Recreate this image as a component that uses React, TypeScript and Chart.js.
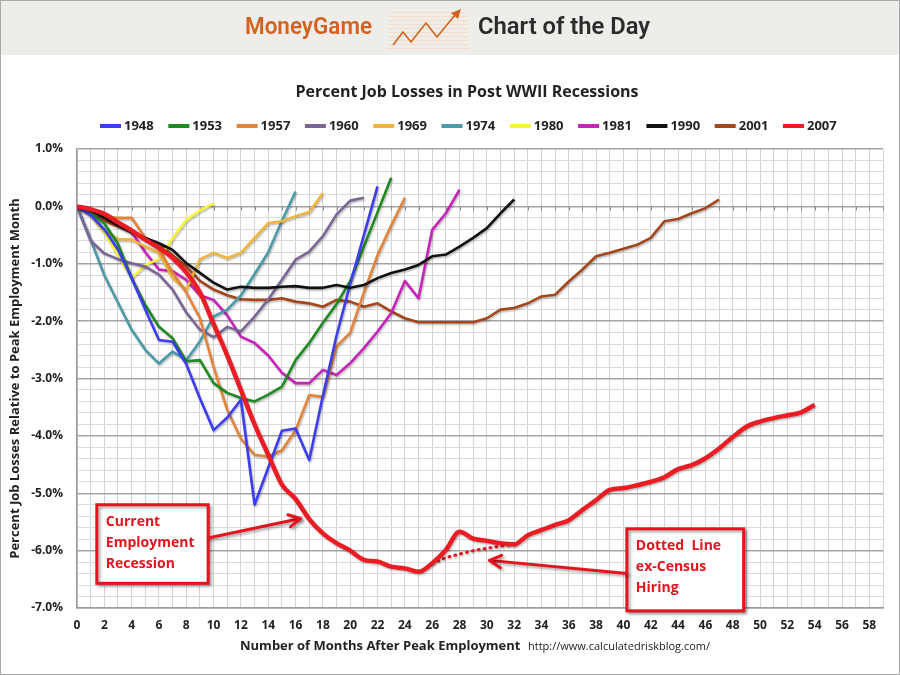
import { useEffect, useRef } from "react";
import { Chart, registerables } from "chart.js";

Chart.register(...registerables);

// Percent change in payroll employment relative to the pre-recession peak month,
// indexed by months after the peak (index 0 = peak month).
const jobs1948 = [0, -0.15, -0.4, -0.75, -1.25, -1.8, -2.33, -2.36, -2.75, -3.35, -3.9, -3.68, -3.37, -5.2, -4.55, -3.91, -3.87, -4.42, -3.3, -2.25, -1.35, -0.5, 0.35];
const jobs1953 = [0, -0.12, -0.3, -0.65, -1.25, -1.72, -2.1, -2.3, -2.7, -2.68, -3.08, -3.25, -3.34, -3.4, -3.28, -3.14, -2.68, -2.38, -2.03, -1.7, -1.3, -0.7, -0.1, 0.5];
const jobs1957 = [0, -0.1, -0.18, -0.2, -0.2, -0.55, -0.75, -1.15, -1.5, -1.95, -2.8, -3.55, -4.05, -4.33, -4.36, -4.25, -3.9, -3.29, -3.32, -2.44, -2.2, -1.5, -0.85, -0.33, 0.15];
const jobs1960 = [0, -0.6, -0.82, -0.92, -0.99, -1.05, -1.19, -1.45, -1.85, -2.15, -2.28, -2.1, -2.18, -1.92, -1.62, -1.28, -0.93, -0.79, -0.52, -0.14, 0.1, 0.15];
const jobs1969 = [0, -0.15, -0.42, -0.57, -0.58, -0.7, -0.81, -1.25, -1.45, -0.92, -0.81, -0.9, -0.81, -0.55, -0.29, -0.26, -0.17, -0.1, 0.23];
const jobs1974 = [0, -0.58, -1.2, -1.68, -2.15, -2.5, -2.74, -2.53, -2.68, -2.35, -1.92, -1.8, -1.55, -1.18, -0.8, -0.25, 0.26];
const jobs1980 = [0, -0.15, -0.45, -0.85, -1.25, -1.02, -0.92, -0.55, -0.24, -0.07, 0.05];
const jobs1981 = [0, -0.05, -0.15, -0.3, -0.45, -0.8, -1.1, -1.13, -1.28, -1.55, -1.63, -1.9, -2.27, -2.38, -2.6, -2.9, -3.08, -3.08, -2.85, -2.94, -2.73, -2.47, -2.18, -1.86, -1.3, -1.6, -0.41, -0.12, 0.29];
const jobs1990 = [0, -0.07, -0.2, -0.33, -0.45, -0.55, -0.64, -0.76, -0.99, -1.16, -1.33, -1.45, -1.4, -1.42, -1.42, -1.4, -1.39, -1.42, -1.42, -1.37, -1.42, -1.37, -1.25, -1.16, -1.1, -1.02, -0.87, -0.84, -0.7, -0.55, -0.38, -0.12, 0.12];
const jobs2001 = [0, -0.12, -0.25, -0.35, -0.45, -0.55, -0.67, -0.85, -1.05, -1.3, -1.45, -1.55, -1.62, -1.63, -1.63, -1.6, -1.66, -1.69, -1.75, -1.63, -1.66, -1.75, -1.69, -1.83, -1.95, -2.02, -2.02, -2.02, -2.02, -2.02, -1.95, -1.8, -1.77, -1.69, -1.57, -1.54, -1.31, -1.1, -0.87, -0.81, -0.74, -0.67, -0.55, -0.26, -0.22, -0.12, -0.03, 0.12];
const jobs2007 = [0, -0.05, -0.13, -0.28, -0.42, -0.58, -0.72, -0.9, -1.15, -1.5, -2.05, -2.6, -3.2, -3.8, -4.33, -4.85, -5.1, -5.45, -5.7, -5.87, -6.0, -6.16, -6.19, -6.28, -6.31, -6.37, -6.22, -5.99, -5.67, -5.79, -5.83, -5.87, -5.89, -5.73, -5.64, -5.55, -5.47, -5.29, -5.12, -4.94, -4.91, -4.86, -4.8, -4.72, -4.58, -4.51, -4.39, -4.22, -4.02, -3.84, -3.75, -3.69, -3.64, -3.59, -3.46];

// 2007 recession excluding temporary census hiring, months 26..32
const exCensusStart = 26;
const jobs2007exCensus = [-6.22, -6.12, -6.06, -6.0, -5.96, -5.92, -5.89];

const recessionYears = ["1948", "1953", "1957", "1960", "1969", "1974", "1980", "1981", "1990", "2001", "2007"];
const recessionColors = ["#3d3df2", "#1f8a22", "#e5833a", "#7a6696", "#f2b53c", "#4b9aa9", "#f5f53c", "#c823b9", "#111111", "#a4461c", "#ec1c24"];
const recessionSeries = [jobs1948, jobs1953, jobs1957, jobs1960, jobs1969, jobs1974, jobs1980, jobs1981, jobs1990, jobs2001, jobs2007];

const monthTickLabels = [0, 2, 4, 6, 8, 10, 12, 14, 16, 18, 20, 22, 24, 26, 28, 30, 32, 34, 36, 38, 40, 42, 44, 46, 48, 50, 52, 54, 56, 58];
const percentTickLabels = [1, 0, -1, -2, -3, -4, -5, -6, -7];

const FONT = "'Open Sans', 'Noto Sans', sans-serif";
const RED = "#e3141d";

type Pt = [number, number];

function drawArrow(ctx: CanvasRenderingContext2D, from: Pt, to: Pt) {
  ctx.beginPath();
  ctx.moveTo(from[0], from[1]);
  ctx.lineTo(to[0], to[1]);
  ctx.stroke();
  const ang = Math.atan2(to[1] - from[1], to[0] - from[0]);
  const len = 13;
  ctx.beginPath();
  ctx.moveTo(to[0] - len * Math.cos(ang - 0.5), to[1] - len * Math.sin(ang - 0.5));
  ctx.lineTo(to[0], to[1]);
  ctx.lineTo(to[0] - len * Math.cos(ang + 0.5), to[1] - len * Math.sin(ang + 0.5));
  ctx.stroke();
}

// Callout boxes and arrows, positioned in data units (months, percent)
const callouts = [
  { box: [1.45, -5.2, 9.6, -6.57], lines: ["Current", "Employment", "Recession"], from: [9.6, -5.78], to: [16.35, -5.44] },
  { box: [40.25, -5.62, 48.8, -7.05], lines: ["Dotted  Line", "ex-Census", "Hiring"], from: [40.25, -6.4], to: [30.2, -6.17] },
];

const decor = {
  id: "decor",
  beforeDraw(chart: any) {
    const { ctx, width, height } = chart;
    ctx.save();
    ctx.fillStyle = "#ffffff";
    ctx.fillRect(0, 0, width, height);
    // header band
    ctx.fillStyle = "#efedea";
    ctx.fillRect(0, 0, width, 55);
    ctx.textBaseline = "middle";
    ctx.fillStyle = "#d2621e";
    ctx.font = `600 24px 'Roboto', ${FONT}`;
    ctx.fillText("MoneyGame", 245, 28, 127);
    ctx.fillStyle = "#2b2b2b";
    ctx.font = `600 24px 'Roboto', ${FONT}`;
    ctx.fillText("Chart of the Day", 478, 28, 172);
    // logo: striped backdrop with rising zig-zag arrow
    ctx.strokeStyle = "#f6dccb";
    ctx.lineWidth = 1;
    for (let y = 12; y <= 48; y += 4) {
      ctx.beginPath();
      ctx.moveTo(388, y + 0.5);
      ctx.lineTo(468, y + 0.5);
      ctx.stroke();
    }
    ctx.strokeStyle = "#d2621e";
    ctx.lineWidth = 1.6;
    ctx.lineJoin = "miter";
    ctx.beginPath();
    ctx.moveTo(393, 45);
    ctx.lineTo(403, 32);
    ctx.lineTo(411, 42);
    ctx.lineTo(426, 23);
    ctx.lineTo(437, 37);
    ctx.lineTo(455, 15);
    ctx.stroke();
    ctx.fillStyle = "#d2621e";
    ctx.beginPath();
    ctx.moveTo(461, 9);
    ctx.lineTo(451, 13);
    ctx.lineTo(458, 19);
    ctx.closePath();
    ctx.fill();

    // chart title
    ctx.fillStyle = "#222";
    ctx.textAlign = "center";
    ctx.font = `bold 16px ${FONT}`;
    ctx.fillText("Percent Job Losses in Post WWII Recessions", 467, 92, 362);

    // legend
    ctx.textAlign = "left";
    ctx.font = `bold 13px ${FONT}`;
    chart.data.datasets.forEach((ds: any, i: number) => {
      if (ds.inLegend === false) return;
      const x0 = 100 + i * 68.3;
      ctx.fillStyle = ds.borderColor;
      ctx.fillRect(x0, 124, 21, 4);
      ctx.fillStyle = "#222";
      ctx.fillText(ds.label, x0 + 24, 126.5, 32);
    });
    ctx.restore();
  },
  beforeDatasetsDraw(chart: any) {
    const { ctx, scales } = chart;
    const x = scales.x;
    const y0 = Math.round(scales.y.getPixelForValue(0)) + 0.5;
    ctx.save();
    ctx.strokeStyle = "#8c8c8c";
    ctx.lineWidth = 1;
    for (let m = 0; m <= 59; m++) {
      const px = Math.round(x.getPixelForValue(m)) + 0.5;
      ctx.beginPath();
      ctx.moveTo(px, y0);
      ctx.lineTo(px, y0 + 4);
      ctx.stroke();
    }
    ctx.restore();
  },
  beforeDatasetDraw(chart: any) {
    const { ctx } = chart;
    ctx.save();
    ctx.shadowColor = "rgba(0,0,0,0.28)";
    ctx.shadowBlur = 2;
    ctx.shadowOffsetX = 1;
    ctx.shadowOffsetY = 1.5;
  },
  afterDatasetDraw(chart: any) {
    chart.ctx.restore();
  },
  afterDraw(chart: any) {
    const { ctx, scales, width, height } = chart;
    const X = (m: number) => scales.x.getPixelForValue(m);
    const Y = (v: number) => scales.y.getPixelForValue(v);
    ctx.save();
    // callouts
    callouts.forEach((c) => {
      const [m0, v0, m1, v1] = c.box;
      const bx = X(m0), by = Y(v0), bw = X(m1) - bx, bh = Y(v1) - by;
      ctx.save();
      ctx.shadowColor = "rgba(0,0,0,0.35)";
      ctx.shadowBlur = 3;
      ctx.shadowOffsetX = 2;
      ctx.shadowOffsetY = 2;
      ctx.fillStyle = "#ffffff";
      ctx.fillRect(bx, by, bw, bh);
      ctx.strokeStyle = RED;
      ctx.lineWidth = 3;
      ctx.strokeRect(bx, by, bw, bh);
      ctx.lineWidth = 3;
      ctx.lineCap = "round";
      ctx.lineJoin = "round";
      drawArrow(ctx, [X(c.from[0]), Y(c.from[1])], [X(c.to[0]), Y(c.to[1])]);
      ctx.restore();
      ctx.fillStyle = RED;
      ctx.font = `bold 14px ${FONT}`;
      ctx.textBaseline = "middle";
      ctx.textAlign = "left";
      c.lines.forEach((t, i) => ctx.fillText(t, bx + 9, by + 17 + i * 21.3));
    });
    // x-axis title and source
    ctx.fillStyle = "#222";
    ctx.textBaseline = "middle";
    ctx.textAlign = "left";
    ctx.font = `bold 13px ${FONT}`;
    ctx.fillText("Number of Months After Peak Employment", 240, 646, 281);
    ctx.font = `11px ${FONT}`;
    ctx.fillText("http://www.calculatedriskblog.com/", 528, 647, 195);
    // outer frame
    ctx.strokeStyle = "#a9a9a9";
    ctx.lineWidth = 1;
    ctx.strokeRect(0.5, 0.5, width - 1, height - 1);
    ctx.restore();
  },
};

function isWhole(v: number) {
  return Math.abs(v - Math.round(v)) < 1e-6;
}

export default function App() {
  const canvasRef = useRef<HTMLCanvasElement>(null);

  useEffect(() => {
    if (!canvasRef.current) return;
    const datasets: any[] = recessionSeries.map((series, i) => ({
      label: recessionYears[i],
      data: series.map((v, m) => ({ x: m, y: v })),
      borderColor: recessionColors[i],
      backgroundColor: recessionColors[i],
      borderWidth: recessionYears[i] === "2007" ? 4.5 : 2.6,
      pointRadius: 0,
      tension: 0,
      cubicInterpolationMode: recessionYears[i] === "2007" ? "monotone" : "default",
      borderJoinStyle: "round",
      order: recessionYears[i] === "2007" ? 0 : recessionYears[i] === "1990" ? 2 : 3,
    }));
    datasets.push({
      label: "ex-Census",
      inLegend: false,
      data: jobs2007exCensus.map((v, k) => ({ x: exCensusStart + k, y: v })),
      borderColor: RED,
      borderWidth: 3,
      borderDash: [1, 5],
      borderCapStyle: "round",
      pointRadius: 0,
      tension: 0,
      order: 1,
    });

    const chart = new Chart(canvasRef.current, {
      type: "line",
      data: { datasets },
      plugins: [decor],
      options: {
        responsive: false,
        animation: false,
        parsing: false as any,
        normalized: true,
        layout: { padding: { top: 149, right: 17, left: 0, bottom: 0 } },
        plugins: {
          legend: { display: false },
          title: { display: false },
          tooltip: { enabled: false },
        },
        scales: {
          x: {
            type: "linear",
            min: 0,
            max: 59,
            afterFit: (s: any) => { s.height = 67; },
            afterBuildTicks: (s: any) => {
              const t = [];
              for (let m = 0; m <= 59; m++) t.push({ value: m });
              s.ticks = t;
            },
            ticks: {
              autoSkip: false,
              maxRotation: 0,
              padding: 10,
              color: "#222",
              font: { family: FONT, size: 12, weight: "bold" },
              callback: (v: any) => (monthTickLabels.includes(v) ? String(v) : ""),
            },
            grid: { color: "#d3d3d3", lineWidth: 1, drawTicks: false },
            border: { display: true, color: "#9a9a9a", width: 1.5 },
          },
          y: {
            type: "linear",
            min: -7,
            max: 1,
            afterFit: (s: any) => { s.width = 77; },
            ticks: {
              stepSize: 0.2,
              autoSkip: false,
              padding: 14,
              color: "#222",
              font: { family: FONT, size: 12, weight: "bold" },
              callback: (v: any) => {
                if (!isWhole(v)) return "";
                const r = Math.round(v) || 0;
                return percentTickLabels.includes(r) ? `${r.toFixed(1)}%` : "";
              },
            },
            grid: {
              drawTicks: false,
              color: (c: any) => (isWhole(c.tick.value) ? "#a3a3a3" : "#dcdcdc"),
              lineWidth: (c: any) => (isWhole(c.tick.value) ? 1.5 : 1),
            },
            border: { display: true, color: "#9a9a9a", width: 1.5 },
            title: {
              display: true,
              text: "Percent Job Losses Relative to Peak Employment Month",
              color: "#222",
              font: { family: FONT, size: 13, weight: "bold" },
              padding: { top: 7, bottom: 0 },
            },
          },
        },
      },
    });
    return () => chart.destroy();
  }, []);

  return (
    <div style={{ position: "absolute", left: 0, top: 0, width: 900, height: 675 }}>
      <canvas ref={canvasRef} width={900} height={675} style={{ display: "block" }} />
    </div>
  );
}
